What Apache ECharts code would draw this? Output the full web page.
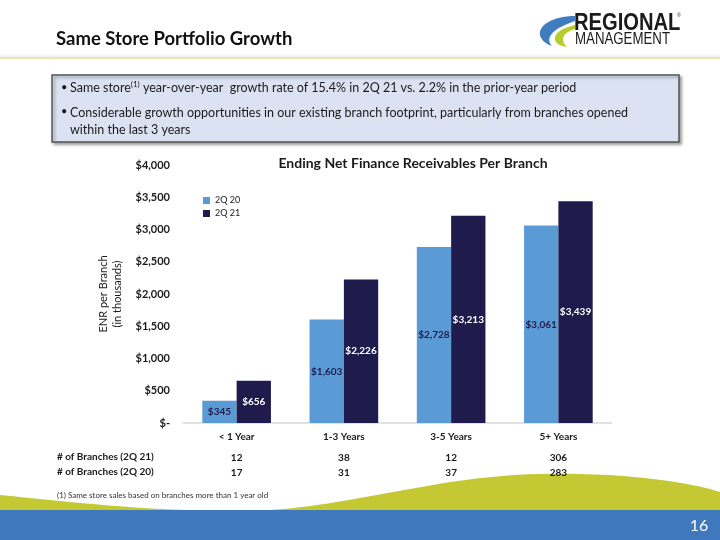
<!DOCTYPE html>
<html>
<head>
<meta charset="utf-8">
<script src="https://cdn.jsdelivr.net/npm/echarts@6/dist/echarts.min.js"></script>
<style>
html,body{margin:0;padding:0;background:#fff;}
#chart{width:720px;height:540px;}
</style>
</head>
<body>
<div id="chart"></div>
<script>
const categories = ['< 1 Year', '1-3 Years', '3-5 Years', '5+ Years'];
const seriesNames = ['2Q 20', '2Q 21'];
const enr2Q20 = [345, 1603, 2728, 3061];
const enr2Q21 = [656, 2226, 3213, 3439];
const branches2Q21 = [12, 38, 12, 306];
const branches2Q20 = [17, 31, 37, 283];
const yTicks = [0, 500, 1000, 1500, 2000, 2500, 3000, 3500, 4000];
const rowLabels = ['# of Branches (2Q 21)', '# of Branches (2Q 20)'];

const FONT = 'Lato';
const fmtMoney = v => v === 0 ? '$-' : '$' + v.toLocaleString('en-US');

// sample a chain of cubic bezier segments into polygon points (decoration only)
function bezierPts(start, segs, n) {
  const pts = [start];
  let p0 = start;
  segs.forEach(s => {
    const [c1, c2, p3] = s;
    for (let i = 1; i <= n; i++) {
      const t = i / n, u = 1 - t;
      pts.push([
        u*u*u*p0[0] + 3*u*u*t*c1[0] + 3*u*t*t*c2[0] + t*t*t*p3[0],
        u*u*u*p0[1] + 3*u*u*t*c1[1] + 3*u*t*t*c2[1] + t*t*t*p3[1]
      ]);
    }
    p0 = p3;
  });
  return pts;
}

const wavePts = bezierPts([0, 495], [
  [[80, 503], [150, 511], [240, 511]],
  [[340, 511], [430, 476], [540, 474]],
  [[620, 472], [690, 482], [720, 492]]
], 30).concat([[720, 540], [0, 540]]);

const swooshBlue = bezierPts([575, 16], [
  [[552, 16], [538, 26], [540, 35]],
  [[541, 40], [546, 44], [552, 46]],
  [[546, 40], [548, 30], [575, 21]]
], 16);
const swooshGreen = bezierPts([575, 25], [
  [[558, 29], [552, 36], [556, 42]],
  [[558, 45], [562, 46], [567, 47]],
  [[560, 40], [562, 33], [575, 29]]
], 16);

const chart = echarts.init(document.getElementById('chart'));

const option = {
  backgroundColor: '#ffffff',
  textStyle: { fontFamily: FONT },
  animation: false,
  title: {
    text: 'Ending Net Finance Receivables Per Branch',
    left: 408, top: 151, textAlign: 'center',
    textStyle: { fontFamily: FONT, fontSize: 14, fontWeight: 'bold', color: '#1a1a1a' }
  },
  legend: {
    data: seriesNames,
    orient: 'vertical',
    left: 198, top: 191,
    itemWidth: 7, itemHeight: 7, itemGap: 4,
    icon: 'rect',
    textStyle: { fontFamily: FONT, fontSize: 9, color: '#1a1a1a' }
  },
  grid: { left: 183, right: 108, top: 165, bottom: 117, containLabel: false },
  xAxis: [
    {
      type: 'category', data: categories,
      axisLine: { lineStyle: { color: '#d9d9d9', width: 1.5 } },
      axisTick: { show: false },
      axisLabel: { fontFamily: FONT, fontSize: 10, fontWeight: 'bold', color: '#1a1a1a', margin: 9 }
    },
    {
      type: 'category', data: categories, position: 'bottom', offset: 21,
      axisLine: { show: false }, axisTick: { show: false },
      axisLabel: { fontFamily: FONT, fontSize: 10, fontWeight: 'bold', color: '#1a1a1a', margin: 9,
        formatter: (v, i) => String(branches2Q21[i]) }
    },
    {
      type: 'category', data: categories, position: 'bottom', offset: 36,
      axisLine: { show: false }, axisTick: { show: false },
      axisLabel: { fontFamily: FONT, fontSize: 10, fontWeight: 'bold', color: '#1a1a1a', margin: 9,
        formatter: (v, i) => String(branches2Q20[i]) }
    }
  ],
  yAxis: {
    type: 'value', min: yTicks[0], max: yTicks[yTicks.length - 1], interval: 500,
    splitLine: { show: false },
    axisLine: { show: false }, axisTick: { show: false },
    axisLabel: { fontFamily: FONT, fontSize: 11, fontWeight: 'bold', color: '#1a1a1a', margin: 13,
      formatter: fmtMoney },
    name: 'ENR per Branch\n(in thousands)',
    nameLocation: 'middle', nameRotate: 90, nameGap: 55,
    nameTextStyle: { fontFamily: FONT, fontSize: 11, color: '#1a1a1a', lineHeight: 14 }
  },
  series: [
    {
      name: seriesNames[0], type: 'bar', data: enr2Q20, xAxisIndex: 0,
      barWidth: '32%', barGap: '0%',
      itemStyle: { color: '#5b9bd5' },
      label: { show: true, position: 'inside', formatter: p => fmtMoney(p.value),
        fontFamily: FONT, fontSize: 10, fontWeight: 'bold', color: '#1f1b4d' }
    },
    {
      name: seriesNames[1], type: 'bar', data: enr2Q21, xAxisIndex: 0,
      barWidth: '32%', barGap: '0%',
      itemStyle: { color: '#1f1b4d' },
      label: { show: true, position: 'inside', formatter: p => fmtMoney(p.value),
        fontFamily: FONT, fontSize: 10, fontWeight: 'bold', color: '#ffffff' }
    }
  ],
  graphic: [
    // header
    { type: 'text', x: 56, y: 30, style: { text: 'Same Store Portfolio Growth',
      font: 'bold 18.5px ' + FONT, fill: '#111111' } },
    { type: 'rect', shape: { x: 0, y: 53, width: 720, height: 5 },
      style: { fill: new echarts.graphic.LinearGradient(0,0,0,1,[{offset:0,color:'rgba(240,240,240,0)'},{offset:1,color:'rgba(220,220,220,0.8)'}]) } },
    { type: 'rect', shape: { x: 0, y: 57.5, width: 720, height: 1.5 }, style: { fill: '#e4e7b0' } },
    // logo
    { type: 'polygon', shape: { points: swooshBlue }, style: { fill: '#3f7cc0' } },
    { type: 'polygon', shape: { points: swooshGreen }, style: { fill: '#b7cc2e' } },
    { type: 'text', x: 574, y: 11, scaleX: 0.84, style: { text: 'REGIONAL',
      font: 'bold 24px "Liberation Sans"', fill: '#1a1a1a' } },
    { type: 'text', x: 575, y: 31, scaleX: 0.78, style: { text: 'MANAGEMENT',
      font: '17px "Liberation Sans"', fill: '#1a1a1a' } },
    { type: 'text', x: 677, y: 13, style: { text: '®', font: '5px "Liberation Sans"', fill: '#1a1a1a' } },
    // bullet box
    { type: 'rect', shape: { x: 52, y: 75, width: 627, height: 67 },
      style: { fill: '#dbe3f3', stroke: '#555555', lineWidth: 1.5,
        shadowBlur: 3, shadowOffsetX: 2, shadowOffsetY: 2, shadowColor: 'rgba(0,0,0,0.35)' } },
    { type: 'text', x: 61, y: 82, style: { text: '•', font: '11px ' + FONT, fill: '#1a1a1a' } },
    { type: 'text', x: 70, y: 80, style: {
      text: '{a|Same store}{s|(1)}{a| year-over-year  growth rate of 15.4% in 2Q 21 vs. 2.2% in the prior-year period}',
      rich: { a: { font: '12.5px ' + FONT, fill: '#1a1a1a', lineHeight: 16 },
              s: { font: '8px ' + FONT, fill: '#1a1a1a', lineHeight: 16, padding: [0,0,7,0] } } } },
    { type: 'text', x: 61, y: 106, style: { text: '•', font: '11px ' + FONT, fill: '#1a1a1a' } },
    { type: 'text', x: 70, y: 104, style: {
      text: 'Considerable growth opportunities in our existing branch footprint, particularly from branches opened\nwithin the last 3 years',
      font: '12.5px ' + FONT, fill: '#1a1a1a', lineHeight: 17 } },
    // table row labels
    { type: 'text', x: 57, y: 452, style: { text: rowLabels[0], font: 'bold 10px ' + FONT, fill: '#1a1a1a' } },
    { type: 'text', x: 57, y: 467, style: { text: rowLabels[1], font: 'bold 10px ' + FONT, fill: '#1a1a1a' } },
    // footnote
    { type: 'text', x: 57, y: 491, style: { text: '(1) Same store sales based on branches more than 1 year old',
      font: '8px ' + FONT, fill: '#333333' } },
    // footer
    { type: 'polygon', shape: { points: wavePts }, style: { fill: '#c3c833' } },
    { type: 'rect', shape: { x: 0, y: 510, width: 720, height: 30 }, style: { fill: '#3f78bd' } },
    { type: 'text', x: 699, y: 518, style: { text: '16', font: '16px ' + FONT, fill: '#ffffff', textAlign: 'center' } }
  ]
};

chart.setOption(option);
</script>
</body>
</html>
